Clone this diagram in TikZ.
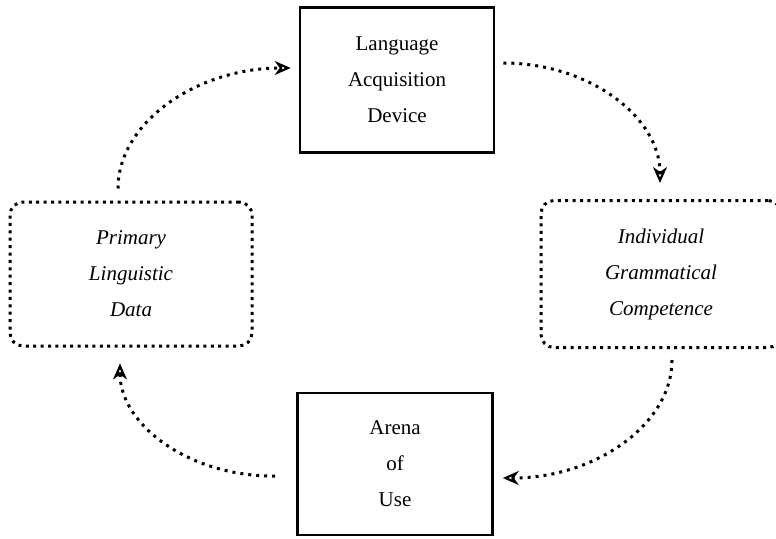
\documentclass[tikz,border=0pt]{standalone}
\usepackage{fontspec}
\setmainfont{Liberation Serif}
\usetikzlibrary{arrows.meta}

\begin{document}
\begin{tikzpicture}[x=1pt, y=-1pt,
  solidbox/.style={draw, line width=2.6pt, align=center, inner sep=0pt,
    font=\fontsize{21}{36}\selectfont},
  dotbox/.style={draw, line width=3pt, dash pattern=on 3pt off 4.4pt,
    rounded corners=13pt, align=center, inner sep=0pt,
    font=\fontsize{21}{36}\selectfont\itshape},
  flow/.style={line width=3pt, dash pattern=on 3pt off 5pt,
    -{Stealth[open, inset=5pt, length=16pt, width=14pt, line width=2.2pt]}}]
  \useasboundingbox (0,0) rectangle (776,538);

  \node[solidbox, minimum width=194pt, minimum height=145pt] (lad) at (397,80)
    {Language\\Acquisition\\Device};
  \node[dotbox, minimum width=242pt, minimum height=144pt] (pld) at (131,274)
    {Primary\\Linguistic\\Data};
  \node[dotbox, minimum width=240pt, minimum height=147pt] (igc) at (661,274)
    {Individual\\Grammatical\\Competence};
  \node[solidbox, minimum width=195pt, minimum height=142pt] (aou) at (395,464)
    {Arena\\of\\Use};

  \draw[flow] ([xshift=-13pt,yshift=12pt]pld.north)
    .. controls (118,123) and (196,68) .. ([xshift=-8pt,yshift=12pt]lad.west);
  \draw[flow] ([xshift=8pt,yshift=17pt]lad.east)
    .. controls (589,63) and (660,117) .. ([xshift=-1pt,yshift=16pt]igc.north);
  \draw[flow] ([xshift=11pt,yshift=-11pt]igc.south)
    .. controls (672,424) and (596,478) .. ([xshift=9pt,yshift=-14pt]aou.east);
  \draw[flow] ([xshift=-21pt,yshift=-12pt]aou.west)
    .. controls (190,477) and (120,425) .. ([xshift=-11pt,yshift=-16pt]pld.south);
\end{tikzpicture}
\end{document}
